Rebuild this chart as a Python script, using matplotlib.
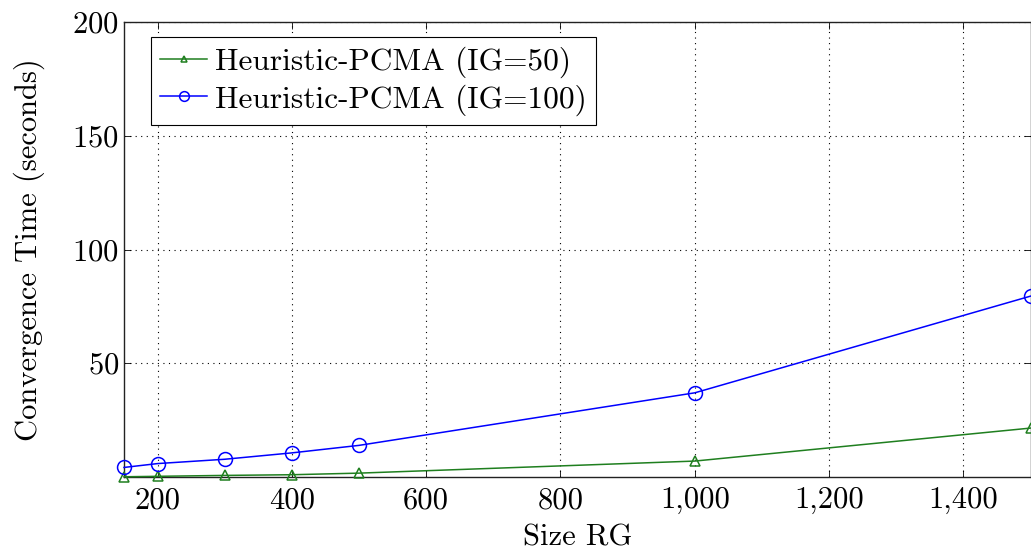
import numpy as np
import matplotlib
matplotlib.use("Agg")
import matplotlib.pyplot as plt
from matplotlib.ticker import FuncFormatter

# Size RG values
sizes = [150, 200, 300, 400, 500, 1000, 1500]
# convergence times (seconds)
time_ig50 = [0.1, 0.3, 0.7, 1.0, 1.7, 7.0, 21.5]
time_ig100 = [4.2, 5.9, 7.8, 10.6, 13.9, 37.0, 79.5]

plt.rcParams['font.family'] = ['cmr10', 'DejaVu Serif']
plt.rcParams['axes.formatter.use_mathtext'] = True
fs = 22

fig = plt.figure(figsize=(10.31, 5.54), dpi=100)
ax = fig.add_axes([124/1031, 1 - 477/554, 1 - 124/1031 - 0.5/1031, (477 - 22)/554])

ax.plot(sizes, time_ig50, color='#1f7f1f', marker='^', markersize=7,
        markerfacecolor='none', markeredgewidth=1.1, linewidth=1.1,
        label='Heuristic-PCMA (IG=50)', clip_on=False, zorder=3)
ax.plot(sizes, time_ig100, color='blue', marker='o', markersize=10,
        markerfacecolor='none', markeredgewidth=1.1, linewidth=1.1,
        label='Heuristic-PCMA (IG=100)', clip_on=False, zorder=3)

ax.set_xlim(150, 1500)
ax.set_ylim(0, 200)
ax.set_xticks([200, 400, 600, 800, 1000, 1200, 1400])
ax.set_yticks([50, 100, 150, 200])
ax.xaxis.set_major_formatter(FuncFormatter(lambda v, p: f"{int(v):,}"))
ax.tick_params(direction='in', top=True, right=True, labelsize=fs, length=5, width=0.6)
ax.tick_params(axis='x', pad=7)

ax.grid(True, color='black', linestyle=(0, (1, 4)), linewidth=0.8)
for s in ax.spines.values():
    s.set_linewidth(1.0)
    s.set_color('#222222')

ax.set_xlabel('Size RG', fontsize=fs, labelpad=7)
ax.set_ylabel('Convergence Time (seconds)', fontsize=fs, labelpad=20)

leg = ax.legend(loc='upper left', bbox_to_anchor=(27/907, 440/455), fontsize=22.6,
                fancybox=False, edgecolor='black', framealpha=1, borderpad=0.3,
                labelspacing=0.2, handlelength=1.5, handletextpad=0.25,
                borderaxespad=0, markerscale=0.7)
leg.get_frame().set_linewidth(0.8)

fig.savefig('out.png', dpi=100)
